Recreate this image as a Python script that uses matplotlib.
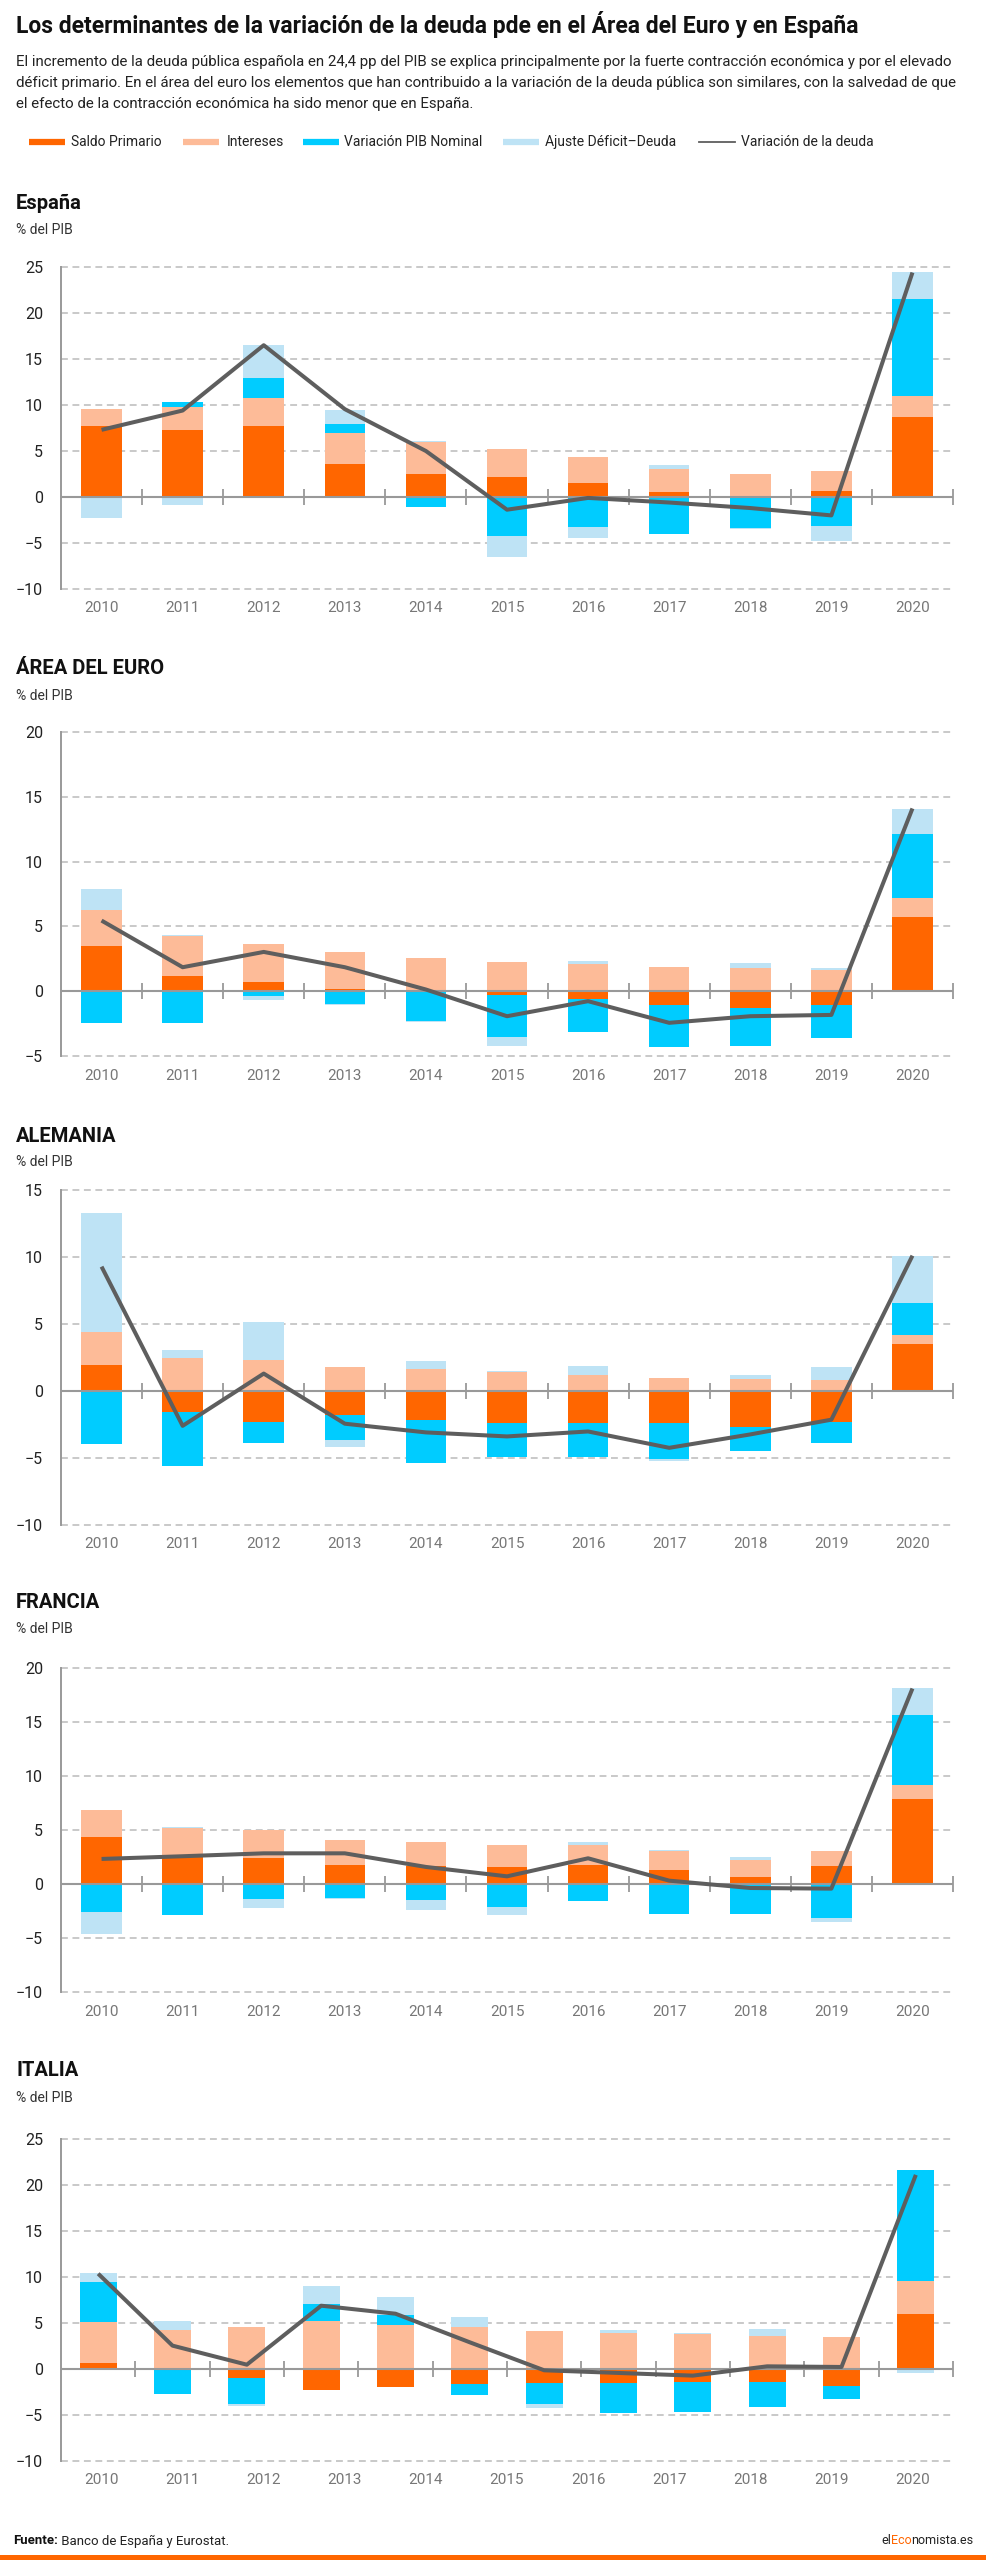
import matplotlib
matplotlib.use('Agg')
import matplotlib.pyplot as plt
import numpy as np
from matplotlib.lines import Line2D
from matplotlib.patches import Rectangle

plt.rcParams['font.family'] = ['Roboto', 'DejaVu Sans']

# Datos (% del PIB)
years = ['2010', '2011', '2012', '2013', '2014', '2015', '2016', '2017', '2018', '2019', '2020']

esp_saldo = [7.7, 7.25, 7.75, 3.6, 2.5, 2.17, 1.52, 0.5, 0.0, 0.62, 8.73]
esp_intereses = [1.9, 2.55, 3.0, 3.4, 3.44, 3.05, 2.83, 2.54, 2.5, 2.24, 2.28]
esp_pib = [0.0, 0.55, 2.2, 0.95, -1.1, -4.2, -3.22, -4.06, -3.35, -3.12, 10.47]
esp_ajuste = [-2.3, -0.9, 3.6, 1.5, 0.1, -2.35, -1.2, 0.46, -0.15, -1.63, 3.0]
esp_deuda = [7.3, 9.4, 16.5, 9.55, 5.0, -1.38, -0.1, -0.6, -1.2, -2.0, 24.4]

eur_saldo = [3.52, 1.18, 0.69, 0.2, 0.0, -0.3, -0.59, -1.03, -1.31, -1.03, 5.71]
eur_intereses = [2.78, 3.06, 2.99, 2.8, 2.57, 2.29, 2.13, 1.9, 1.8, 1.6, 1.49]
eur_pib = [-2.44, -2.44, -0.39, -0.95, -2.3, -3.2, -2.55, -3.26, -2.88, -2.57, 4.93]
eur_ajuste = [1.62, 0.13, -0.3, -0.15, -0.1, -0.69, 0.2, 0.0, 0.39, 0.2, 1.96]
eur_deuda = [5.45, 1.85, 3.03, 1.85, 0.13, -1.93, -0.77, -2.44, -1.93, -1.83, 14.1]

deu_saldo = [1.92, -1.6, -2.29, -1.8, -2.19, -2.39, -2.39, -2.39, -2.69, -2.29, 3.49]
deu_intereses = [2.49, 2.47, 2.32, 1.82, 1.62, 1.42, 1.22, 1.0, 0.9, 0.8, 0.67]
deu_pib = [-3.94, -3.99, -1.58, -1.84, -3.15, -2.5, -2.5, -2.67, -1.82, -1.6, 2.42]
deu_ajuste = [8.86, 0.57, 2.82, -0.55, 0.62, 0.08, 0.65, -0.13, 0.32, 1.0, 3.52]
deu_deuda = [9.28, -2.6, 1.3, -2.44, -3.09, -3.39, -3.02, -4.24, -3.24, -2.14, 10.1]

fra_saldo = [4.39, 2.57, 2.38, 1.79, 1.7, 1.58, 1.79, 1.27, 0.62, 1.7, 7.88]
fra_intereses = [2.5, 2.59, 2.6, 2.32, 2.2, 2.01, 1.8, 1.76, 1.64, 1.39, 1.3]
fra_pib = [-2.57, -2.84, -1.36, -1.3, -1.45, -2.16, -1.55, -2.78, -2.75, -3.18, 6.46]
fra_ajuste = [-2.04, 0.16, -0.83, -0.05, -0.96, -0.71, 0.31, 0.09, 0.21, -0.34, 2.47]
fra_deuda = [2.32, 2.57, 2.84, 2.84, 1.58, 0.71, 2.38, 0.31, -0.37, -0.43, 18.1]

# Italia trae 12 columnas en el original
ita_saldo = [0.65, 0.0, -0.98, -2.32, -1.96, -1.59, -1.52, -1.52, -1.41, -1.41, -1.81, 6.01]
ita_intereses = [4.45, 4.28, 4.6, 5.18, 4.78, 4.6, 4.09, 3.91, 3.8, 3.55, 3.44, 3.52]
ita_pib = [4.32, -2.68, -2.79, 1.89, 1.05, -1.24, -2.28, -3.26, -3.26, -2.72, -1.45, 12.07]
ita_ajuste = [1.01, 0.97, -0.29, 1.99, 2.03, 1.09, -0.4, 0.33, 0.15, 0.83, 0.0, -0.43]
ita_deuda = [10.36, 2.54, 0.47, 6.88, 6.01, 2.9, -0.14, -0.43, -0.72, 0.29, 0.22, 21.1]

series_names = ['Saldo Primario', 'Intereses', 'Variación PIB Nominal', 'Ajuste Déficit–Deuda']
colors = ['#ff6600', '#fdbb98', '#00ccff', '#bee3f5']
line_color = '#5e5e5e'
line_label = 'Variación de la deuda'

W, H = 986, 2560
fig = plt.figure(figsize=(W / 100, H / 100), dpi=100)
fig.patch.set_facecolor('white')


def fx(px):
    return px / W


def fy(py):
    return 1 - py / H


# cabecera
fig.text(fx(16), fy(24), 'Los determinantes de la variación de la deuda pde en el Área del Euro y en España',
         fontsize=16.5, fontweight='bold', color='#111111', va='center')
sub = ['El incremento de la deuda pública española en 24,4 pp del PIB se explica principalmente por la fuerte contracción económica y por el elevado',
       'déficit primario. En el área del euro los elementos que han contribuido a la variación de la deuda pública son similares, con la salvedad de que',
       'el efecto de la contracción económica ha sido menor que en España.']
for i, s in enumerate(sub):
    fig.text(fx(16), fy(62 + 21 * i), s, fontsize=10.8, color='#222222', va='center')

# leyenda
leg_patch_x = [29, 183, 303, 503]
leg_text_x = [71, 227, 344, 545]
for i in range(4):
    fig.add_artist(Line2D([fx(leg_patch_x[i]), fx(leg_patch_x[i] + 36)], [fy(142), fy(142)],
                          color=colors[i], lw=4.5, solid_capstyle='butt', transform=fig.transFigure))
    fig.text(fx(leg_text_x[i]), fy(142), series_names[i], fontsize=10, color='#222222', va='center')
fig.add_artist(Line2D([fx(699), fx(735)], [fy(142), fy(142)], color=line_color, lw=1.3,
                      transform=fig.transFigure))
fig.text(fx(741), fy(142), line_label, fontsize=10, color='#222222', va='center')

panels = [
    ('España', [esp_saldo, esp_intereses, esp_pib, esp_ajuste], esp_deuda, (-10, 25), 267, 589, 203, 230),
    ('ÁREA DEL EURO', [eur_saldo, eur_intereses, eur_pib, eur_ajuste], eur_deuda, (-5, 20), 732, 1056, 669, 696),
    ('ALEMANIA', [deu_saldo, deu_intereses, deu_pib, deu_ajuste], deu_deuda, (-10, 15), 1190, 1525, 1137, 1162),
    ('FRANCIA', [fra_saldo, fra_intereses, fra_pib, fra_ajuste], fra_deuda, (-10, 20), 1668, 1992, 1603, 1629),
    ('ITALIA', [ita_saldo, ita_intereses, ita_pib, ita_ajuste], ita_deuda, (-10, 25), 2139, 2461, 2071, 2098),
]

left_px, right_px = 61, 953
for name, comps, deuda, ylim, top, bottom, ty, sy in panels:
    ax = fig.add_axes([fx(left_px), fy(bottom), fx(right_px - left_px), (bottom - top) / H])
    n = len(deuda)
    x = np.arange(n)
    pos = np.zeros(n)
    neg = np.zeros(n)
    for vals, c in zip(comps, colors):
        v = np.array(vals)
        base = np.where(v >= 0, pos, neg)
        ax.bar(x, v, bottom=base, width=0.5, color=c, linewidth=0, zorder=3)
        pos = pos + np.where(v >= 0, v, 0)
        neg = neg + np.where(v < 0, v, 0)
    ax.plot(x, deuda, color=line_color, lw=2.9, zorder=5, solid_capstyle='butt')

    ax.set_xlim(-0.5, n - 0.5)
    ax.set_ylim(*ylim)
    yt = np.arange(ylim[0], ylim[1] + 1, 5)
    ax.set_yticks(yt)
    for v in yt:
        if v != 0:
            ax.axhline(v, color='#bbbbbb', lw=1.1, ls=(0, (4.5, 3)), zorder=1, clip_on=False)
    ax.axhline(0, color='#999999', lw=1.5, zorder=4)
    bx = np.arange(n) + 0.5
    ax.plot(bx, np.zeros(n), ls='none', marker='|', ms=11, mew=1.3, color='#999999',
            zorder=4, clip_on=False)

    # etiquetas de años repartidas a lo ancho del eje
    xpos = -0.5 + (np.arange(len(years)) + 0.5) * n / len(years)
    ax.set_xticks(xpos)
    ax.set_xticklabels(years)
    ax.tick_params(axis='x', length=0, pad=9, labelsize=11, labelcolor='#777777')
    ax.tick_params(axis='y', length=0, pad=13, labelsize=11.5, labelcolor='#222222')

    for s in ['top', 'right', 'bottom']:
        ax.spines[s].set_visible(False)
    ax.spines['left'].set_color('#999999')
    ax.spines['left'].set_linewidth(1.4)
    ax.set_facecolor('none')

    fig.text(fx(16), fy(ty), name, fontsize=14.5, fontweight='bold', color='#111111', va='center')
    fig.text(fx(16), fy(sy), '% del PIB', fontsize=10, color='#333333', va='center')

# pie
t1 = fig.text(fx(13), fy(2541), 'Fuente:', fontsize=9.5, fontweight='bold', color='#111111', va='center')
plt.annotate(' Banco de España y Eurostat.', xy=(1, 0.5), xycoords=t1, va='center', ha='left',
             fontsize=9.5, color='#222222')
e1 = fig.text(fx(881), fy(2541), 'el', fontsize=9, color='#222222', va='center')
e2 = plt.annotate('Eco', xy=(1, 0.5), xycoords=e1, va='center', ha='left', fontsize=9, color='#ff6600')
plt.annotate('nomista.es', xy=(1, 0.5), xycoords=e2, va='center', ha='left', fontsize=9, color='#222222')

fig.add_artist(Rectangle((0, 0), 1, 5 / H, color='#ff6600', transform=fig.transFigure, linewidth=0))

fig.savefig('out.png', dpi=100, facecolor='white')
